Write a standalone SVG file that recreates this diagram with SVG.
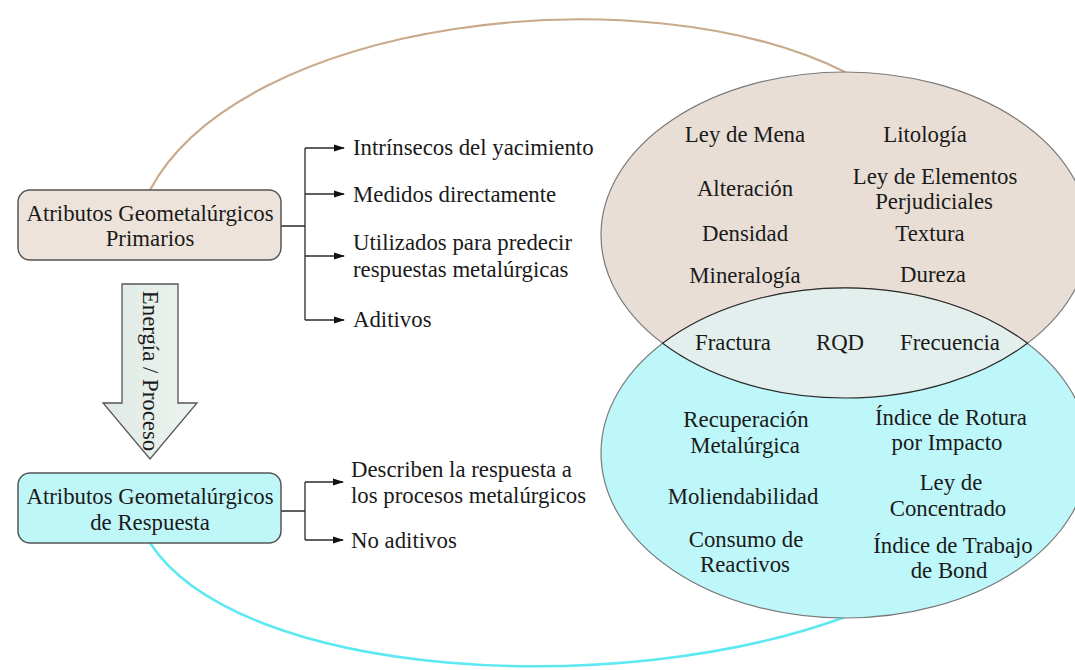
<svg xmlns="http://www.w3.org/2000/svg" width="1075" height="670" viewBox="0 0 1075 670">
<defs>
<style>
.ln{fill:none;stroke:#2a2a2a;stroke-width:1.3}
.box{stroke:#555;stroke-width:1.5}
</style>
<marker id="ah" markerWidth="11" markerHeight="8" refX="10" refY="4" orient="auto" markerUnits="userSpaceOnUse">
<path d="M0,0.5 L11,4 L0,7.5 z" fill="#111"/>
</marker>
<linearGradient id="ag" x1="0" y1="0" x2="1" y2="0">
<stop offset="0" stop-color="#dfe9e4"/>
<stop offset="1" stop-color="#eef4f0"/>
</linearGradient>
</defs>
<rect width="1075" height="670" fill="#fff"/>

<g id="connectors">
<path d="M150,190 C240,20 640,-30 845,72" fill="none" stroke="#c9aa8b" stroke-width="2.2"/>
<path d="M150,543 C240,680 620,700 845,617" fill="none" stroke="#5de9f1" stroke-width="2.5"/>
<path class="ln" d="M281,226 H305 M305,148 V320"/>
<path class="ln" d="M305,148 H344" marker-end="url(#ah)"/>
<path class="ln" d="M305,194 H344" marker-end="url(#ah)"/>
<path class="ln" d="M305,256 H344" marker-end="url(#ah)"/>
<path class="ln" d="M305,320 H344" marker-end="url(#ah)"/>
<path class="ln" d="M281,511 H305 M305,482 V540"/>
<path class="ln" d="M305,482 H343" marker-end="url(#ah)"/>
<path class="ln" d="M305,540 H343" marker-end="url(#ah)"/>
</g>

<g id="ellipses">
<ellipse cx="845" cy="235" rx="244" ry="163" fill="#e8ded5" stroke="#7a7a7a" stroke-width="1.2"/>
<ellipse cx="845" cy="453" rx="244" ry="165" fill="#bdf7f9" stroke="#7a7a7a" stroke-width="1.2"/>
<path d="M662.6,343.3 A244,165 0 0 1 1027.4,343.3 A244,163 0 0 1 662.6,343.3 Z" fill="#e2efed" stroke="#2a2a2a" stroke-width="1.1"/>
</g>

<g id="node-primarios" fill="#1a1a1a">
<rect class="box" x="18" y="190" width="263" height="70" rx="12" fill="#ede3da"/>
<text font-family="Liberation Serif" font-size="22.8" text-anchor="middle" x="150" y="221">Atributos Geometalúrgicos</text>
<text font-family="Liberation Serif" font-size="22.8" text-anchor="middle" x="150" y="246">Primarios</text>
</g>

<g id="node-respuesta" fill="#1a1a1a">
<rect class="box" x="18" y="473" width="263" height="70" rx="12" fill="#bff7f9"/>
<text font-family="Liberation Serif" font-size="22.8" text-anchor="middle" x="150" y="504">Atributos Geometalúrgicos</text>
<text font-family="Liberation Serif" font-size="22.8" text-anchor="middle" x="150" y="530">de Respuesta</text>
</g>

<g id="node-energia" fill="#1a1a1a">
<path d="M122,284 H178 V403 H197 L150,459 L103,403 H122 Z" fill="url(#ag)" stroke="#555" stroke-width="1.3"/>
<text font-family="Liberation Serif" font-size="22.8" text-anchor="middle" transform="translate(143,371) rotate(90)">Energía / Proceso</text>
</g>

<g id="primarios-items" fill="#1a1a1a">
<text font-family="Liberation Serif" font-size="22.8" x="353" y="155">Intrínsecos del yacimiento</text>
<text font-family="Liberation Serif" font-size="22.8" x="353" y="202">Medidos directamente</text>
<text font-family="Liberation Serif" font-size="22.8" x="353" y="250">Utilizados para predecir</text>
<text font-family="Liberation Serif" font-size="22.8" x="353" y="277">respuestas metalúrgicas</text>
<text font-family="Liberation Serif" font-size="22.8" x="353" y="327">Aditivos</text>
</g>

<g id="respuesta-items" fill="#1a1a1a">
<text font-family="Liberation Serif" font-size="22.8" x="351" y="477">Describen la respuesta a</text>
<text font-family="Liberation Serif" font-size="22.8" x="351" y="503">los procesos metalúrgicos</text>
<text font-family="Liberation Serif" font-size="22.8" x="351" y="548">No aditivos</text>
</g>

<g id="top-ellipse-text" fill="#1a1a1a">
<text font-family="Liberation Serif" font-size="22.8" text-anchor="middle" x="745" y="142">Ley de Mena</text>
<text font-family="Liberation Serif" font-size="22.8" text-anchor="middle" x="925" y="142">Litología</text>
<text font-family="Liberation Serif" font-size="22.8" text-anchor="middle" x="745" y="196">Alteración</text>
<text font-family="Liberation Serif" font-size="22.8" text-anchor="middle" x="935" y="184">Ley de Elementos</text>
<text font-family="Liberation Serif" font-size="22.8" text-anchor="middle" x="934" y="209">Perjudiciales</text>
<text font-family="Liberation Serif" font-size="22.8" text-anchor="middle" x="745" y="241">Densidad</text>
<text font-family="Liberation Serif" font-size="22.8" text-anchor="middle" x="930" y="241">Textura</text>
<text font-family="Liberation Serif" font-size="22.8" text-anchor="middle" x="745" y="283">Mineralogía</text>
<text font-family="Liberation Serif" font-size="22.8" text-anchor="middle" x="933" y="282">Dureza</text>
</g>

<g id="lens-text" fill="#1a1a1a">
<text font-family="Liberation Serif" font-size="22.8" text-anchor="middle" x="733" y="350">Fractura</text>
<text font-family="Liberation Serif" font-size="22.8" text-anchor="middle" x="840" y="350">RQD</text>
<text font-family="Liberation Serif" font-size="22.8" text-anchor="middle" x="950" y="350">Frecuencia</text>
</g>

<g id="bottom-ellipse-text" fill="#1a1a1a">
<text font-family="Liberation Serif" font-size="22.8" text-anchor="middle" x="746" y="427">Recuperación</text>
<text font-family="Liberation Serif" font-size="22.8" text-anchor="middle" x="745" y="453">Metalúrgica</text>
<text font-family="Liberation Serif" font-size="22.8" text-anchor="middle" x="951" y="425">Índice de Rotura</text>
<text font-family="Liberation Serif" font-size="22.8" text-anchor="middle" x="947" y="450">por Impacto</text>
<text font-family="Liberation Serif" font-size="22.8" text-anchor="middle" x="743" y="504">Moliendabilidad</text>
<text font-family="Liberation Serif" font-size="22.8" text-anchor="middle" x="951" y="490">Ley de</text>
<text font-family="Liberation Serif" font-size="22.8" text-anchor="middle" x="948" y="516">Concentrado</text>
<text font-family="Liberation Serif" font-size="22.8" text-anchor="middle" x="746" y="547">Consumo de</text>
<text font-family="Liberation Serif" font-size="22.8" text-anchor="middle" x="745" y="572">Reactivos</text>
<text font-family="Liberation Serif" font-size="22.8" text-anchor="middle" x="953" y="553">Índice de Trabajo</text>
<text font-family="Liberation Serif" font-size="22.8" text-anchor="middle" x="949" y="578">de Bond</text>
</g>
</svg>
